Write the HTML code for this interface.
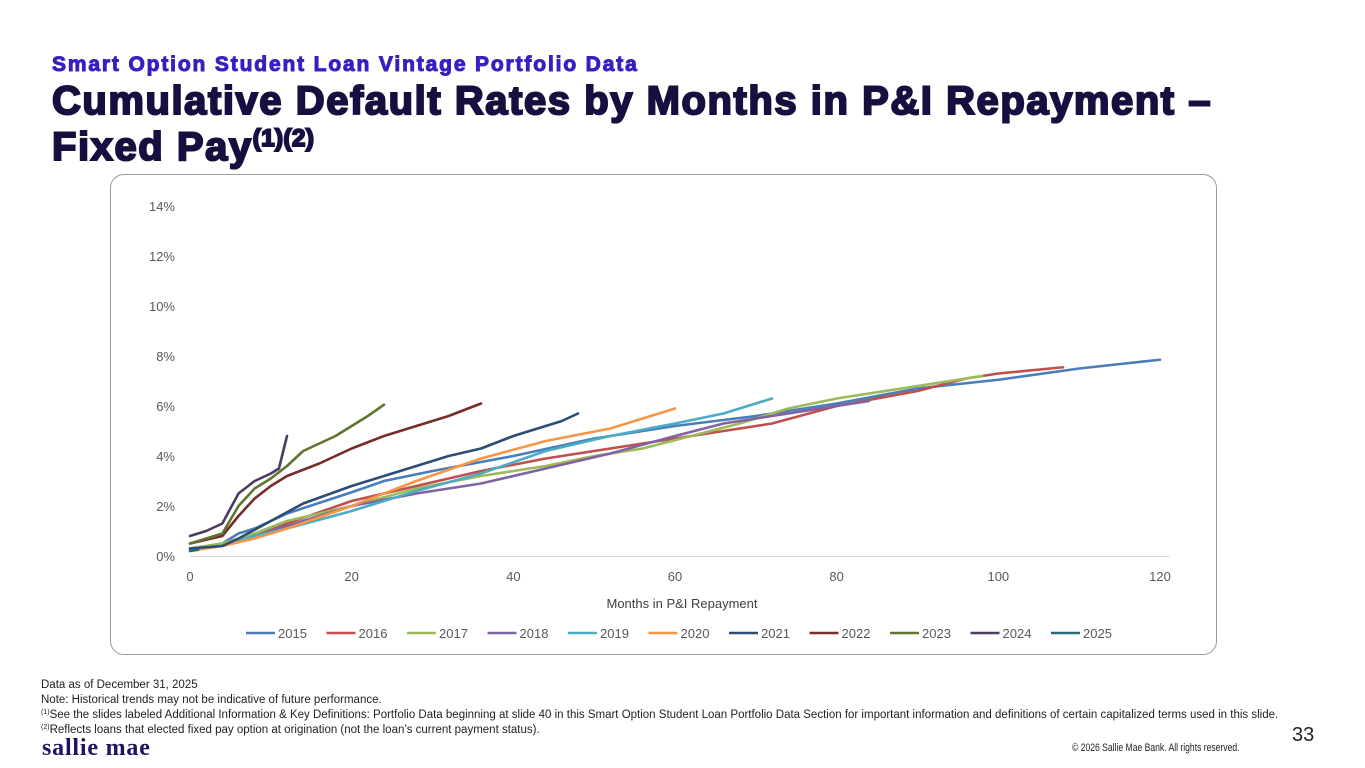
<!DOCTYPE html>
<html><head><meta charset="utf-8"><style>
body{margin:0;width:1365px;height:768px;background:#fff;font-family:"Liberation Sans",sans-serif;position:relative;overflow:hidden}
.abs{position:absolute}
#sub{left:52px;top:53px;font-size:21px;font-weight:bold;color:#3a1fbf;white-space:nowrap;letter-spacing:1.85px;-webkit-text-stroke:1px #3a1fbf}
#title{left:52px;top:83px;font-size:40px;line-height:37px;font-weight:900;color:#15103f;letter-spacing:1.55px;-webkit-text-stroke:2px #15103f;white-space:nowrap}
#title sup{font-size:24px;letter-spacing:0.5px;vertical-align:14px}
#box{left:110px;top:174px;width:1107px;height:481px;border:1px solid #9a9a9a;border-radius:14px;box-sizing:border-box}
#notes{left:41px;top:678px;font-size:11.5px;line-height:15px;color:#222;white-space:nowrap}
#notes sup{font-size:7px;vertical-align:4px;line-height:0}
#logo{left:42px;top:735px;font-family:"Liberation Serif",serif;font-weight:bold;font-size:24px;color:#1c1460;letter-spacing:0.8px}
#pg{left:1292px;top:724px;font-size:20px;color:#222}
#copy{left:1072px;top:742px;font-size:11px;color:#222;transform:scaleX(0.78);transform-origin:left top;white-space:nowrap}
</style></head><body>
<div id="sub" class="abs">Smart Option Student Loan Vintage Portfolio Data</div>
<div id="title" class="abs">Cumulative Default Rates by Months in P&amp;I Repayment –<br>Fixed Pay<sup>(1)(2)</sup></div>
<div id="box" class="abs"></div>
<svg class="abs" style="left:0;top:0" width="1365" height="768" id="chart"></svg>
<div id="notes" class="abs">Data as of December 31, 2025<br>Note: Historical trends may not be indicative of future performance.<br><sup>(1)</sup>See the slides labeled Additional Information &amp; Key Definitions: Portfolio Data beginning at slide 40 in this Smart Option Student Loan Portfolio Data Section for important information and definitions of certain capitalized terms used in this slide.<br><sup>(2)</sup>Reflects loans that elected fixed pay option at origination (not the loan’s current payment status).</div>
<div id="logo" class="abs">sallie mae</div>
<div id="pg" class="abs">33</div>
<div id="copy" class="abs">© 2026 Sallie Mae Bank. All rights reserved.</div>
<script>
const xTicks=[0,20,40,60,80,100,120];
const yTicks=[0,2,4,6,8,10,12,14];
const vintages=['2015','2016','2017','2018','2019','2020','2021','2022','2023','2024','2025'];
const colors=['#4a7ebb','#c0504d','#9bbb59','#8064a2','#4bacc6','#f79646','#2c4d75','#772c2a','#5f7530','#4d3b62','#276a7c'];
const m2015=[[0,0.3],[4,0.5],[6,0.9],[8,1.1],[12,1.7],[20,2.55],[24,3.0],[30,3.4],[40,4.0],[50,4.7],[60,5.2],[70,5.6],[80,6.1],[90,6.7],[100,7.05],[110,7.5],[120,7.85]];
const m2016=[[0,0.3],[4,0.4],[8,0.9],[12,1.3],[20,2.2],[28,2.8],[36,3.4],[44,3.9],[52,4.3],[60,4.7],[66,5.0],[72,5.3],[80,6.0],[90,6.6],[96,7.1],[100,7.3],[108,7.55]];
const m2017=[[0,0.3],[4,0.5],[8,0.9],[12,1.4],[20,2.0],[28,2.7],[36,3.2],[44,3.6],[50,4.0],[56,4.3],[62,4.8],[68,5.3],[74,5.9],[80,6.3],[90,6.8],[98,7.2]];
const m2018=[[0,0.3],[4,0.4],[8,0.8],[12,1.2],[20,2.0],[28,2.5],[36,2.9],[44,3.5],[52,4.1],[60,4.8],[66,5.3],[72,5.6],[84,6.2]];
const m2019=[[0,0.3],[4,0.4],[8,0.8],[12,1.1],[20,1.8],[28,2.6],[36,3.3],[44,4.2],[52,4.8],[60,5.3],[66,5.7],[72,6.3]];
const m2020=[[0,0.2],[4,0.4],[8,0.7],[12,1.1],[20,2.0],[28,3.0],[36,3.9],[44,4.6],[52,5.1],[60,5.9]];
const m2021=[[0,0.3],[4,0.4],[6,0.7],[10,1.4],[14,2.1],[20,2.8],[24,3.2],[28,3.6],[32,4.0],[36,4.3],[40,4.8],[44,5.2],[46,5.4],[48,5.7]];
const m2022=[[0,0.5],[4,0.8],[6,1.6],[8,2.3],[10,2.8],[12,3.2],[16,3.7],[20,4.3],[24,4.8],[28,5.2],[32,5.6],[36,6.1]];
const m2023=[[0,0.5],[4,0.9],[6,2.0],[8,2.7],[10,3.1],[12,3.6],[14,4.2],[18,4.8],[20,5.2],[22,5.6],[24,6.05]];
const m2024=[[0,0.8],[2,1.0],[4,1.3],[6,2.5],[8,3.0],[10,3.3],[11,3.5],[12,4.8]];
const m2025=[[0,0.2],[1,0.25]];
const series=[m2015,m2016,m2017,m2018,m2019,m2020,m2021,m2022,m2023,m2024,m2025];
const X=m=>190+m*(970/120), Y=v=>556-v*25;
const svg=document.getElementById('chart');const NS='http://www.w3.org/2000/svg';
function mk(t,a){const e=document.createElementNS(NS,t);for(const k in a)e.setAttribute(k,a[k]);svg.appendChild(e);return e;}
let ax=mk('line',{x1:190,x2:1170,y1:556.5,y2:556.5,stroke:'#d9d9d9','stroke-width':1});


yTicks.forEach(v=>{const t=mk('text',{x:175,y:Y(v)+5,'text-anchor':'end','font-size':13,fill:'#595959','font-family':'Liberation Sans'});t.textContent=v+'%';

});
xTicks.forEach(v=>{const t=mk('text',{x:X(v),y:581,'text-anchor':'middle','font-size':13,fill:'#595959','font-family':'Liberation Sans'});t.textContent=v;

});
const xt=mk('text',{x:682,y:608,'text-anchor':'middle','font-size':13,fill:'#404040','font-family':'Liberation Sans'});xt.textContent='Months in P&I Repayment';


series.forEach((s,i)=>{const p=mk('polyline',{points:s.map(d=>X(d[0])+','+Y(d[1])).join(' '),fill:'none',stroke:colors[i],'stroke-width':2.6,'stroke-linejoin':'round','stroke-linecap':'round'});

});
vintages.forEach((v,i)=>{const x0=246+i*80.5;
const g=mk('g',{});


const l=document.createElementNS(NS,'line');l.setAttribute('x1',x0);l.setAttribute('x2',x0+29);l.setAttribute('y1',633);l.setAttribute('y2',633);l.setAttribute('stroke',colors[i]);l.setAttribute('stroke-width',2.6);g.appendChild(l);
const t=document.createElementNS(NS,'text');t.setAttribute('x',x0+32);t.setAttribute('y',638);t.setAttribute('font-size',13);t.setAttribute('fill','#595959');t.setAttribute('font-family','Liberation Sans');t.textContent=v;g.appendChild(t);});
</script>
</body></html>
